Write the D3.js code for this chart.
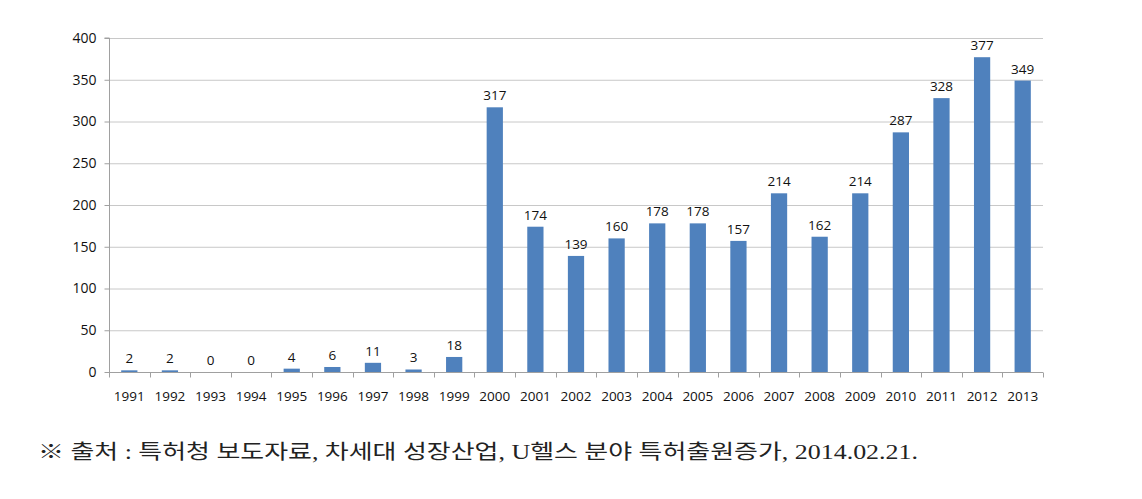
<!DOCTYPE html>
<html><head><meta charset="utf-8">
<script src="https://cdn.jsdelivr.net/npm/d3@7"></script>
<style>body{margin:0;background:#fff}</style>
</head><body>
<svg id="c" width="1142" height="499"></svg>
<script>
const years = ["1991","1992","1993","1994","1995","1996","1997","1998","1999","2000","2001","2002","2003","2004","2005","2006","2007","2008","2009","2010","2011","2012","2013"];
const counts = [2,2,0,0,4,6,11,3,18,317,174,139,160,178,178,157,214,162,214,287,328,377,349];
const yTicks = [0,50,100,150,200,250,300,350,400];
const footnote = "※ 출처 : 특허청 보도자료, 차세대 성장산업, U헬스 분야 특허출원증가, 2014.02.21.";

(function(){
const svg = d3.select("#c");
const pL = 109, pR = 1043, pT = 38, pB = 372;
const x = d3.scaleBand().domain(years).range([pL, pR]).paddingInner(0.6).paddingOuter(0.3);
const y = d3.scaleLinear().domain([0, 400]).range([pB, pT]);
const font = "'Open Sans', 'DejaVu Sans', sans-serif";

svg.append("g").selectAll("line").data(yTicks.filter(d => d > 0)).join("line")
  .attr("x1", pL).attr("x2", pR)
  .attr("y1", d => y(d) + 0.5).attr("y2", d => y(d) + 0.5)
  .attr("stroke", "#c8c8c8").attr("stroke-width", 1);

const ya = svg.append("g").attr("transform", `translate(${pL + 0.5},0)`)
  .call(d3.axisLeft(y).tickValues(yTicks).tickSize(5).tickPadding(8));
ya.select(".domain").attr("stroke", "#a0a0a0").attr("d", `M-5,${pT}H0V${pB}`);
ya.selectAll(".tick line").attr("stroke", "#a0a0a0");
ya.selectAll(".tick text").attr("font-family", font).attr("font-size", 14).attr("fill", "#111");

svg.append("g").selectAll("rect").data(counts).join("rect")
  .attr("x", (d, i) => x(years[i]))
  .attr("width", x.bandwidth())
  .attr("y", d => y(d))
  .attr("height", d => y(0) - y(d))
  .attr("fill", "#4f81bd");

const xa = svg.append("g").attr("transform", `translate(0,${pB + 0.5})`);
xa.append("line").attr("x1", pL).attr("x2", pR).attr("stroke", "#a0a0a0");
const bounds = d3.range(years.length + 1).map(i => pL + i * (pR - pL) / years.length);
xa.selectAll("line.tk").data(bounds).join("line").attr("class", "tk")
  .attr("x1", d => Math.round(d) + 0.5).attr("x2", d => Math.round(d) + 0.5)
  .attr("y1", 0).attr("y2", 5).attr("stroke", "#a0a0a0");
xa.selectAll("text").data(years).join("text")
  .attr("x", d => x(d) + x.bandwidth() / 2).attr("y", 28)
  .attr("text-anchor", "middle").attr("font-family", font).attr("font-size", 13.5).attr("fill", "#111")
  .text(d => d);

svg.append("g").selectAll("text").data(counts).join("text")
  .attr("x", (d, i) => x(years[i]) + x.bandwidth() / 2)
  .attr("y", d => y(d) - 7)
  .attr("text-anchor", "middle").attr("font-family", font).attr("font-size", 13.5).attr("fill", "#111")
  .text(d => d);

svg.append("text").attr("x", 38).attr("y", 459)
  .attr("font-family", "'Liberation Serif', 'Noto Sans CJK KR', serif").attr("font-size", 20).attr("fill", "#222")
  .attr("textLength", 880).attr("lengthAdjust", "spacingAndGlyphs")
  .text(footnote);
})();
</script>
</body></html>
